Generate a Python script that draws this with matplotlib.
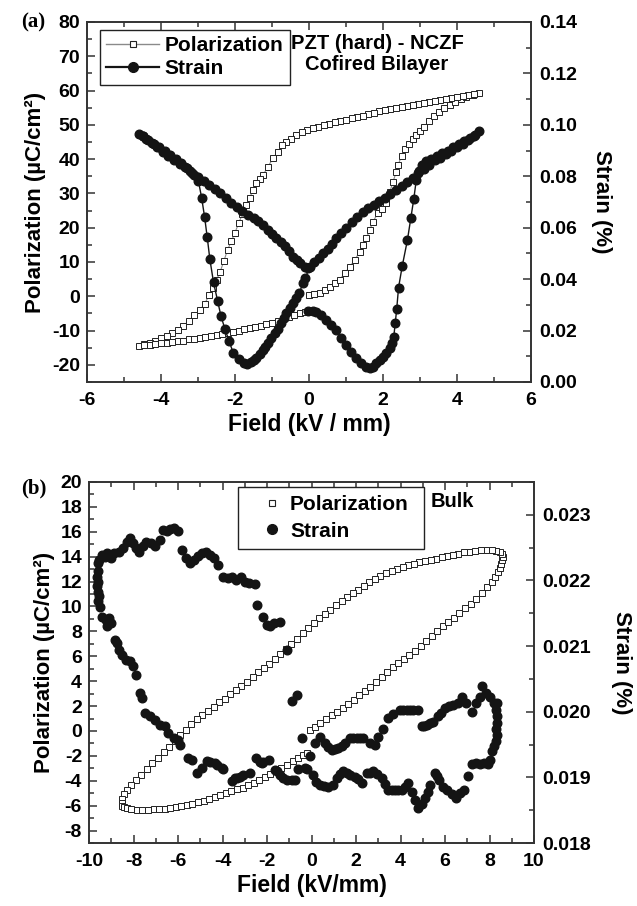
import matplotlib
matplotlib.use("Agg")
import matplotlib.pyplot as plt
from matplotlib.ticker import MultipleLocator, FormatStrFormatter
from matplotlib.lines import Line2D

plt.rcParams['font.family'] = ['Liberation Sans', 'DejaVu Sans']
plt.rcParams['font.weight'] = 'bold'
plt.rcParams['axes.labelweight'] = 'bold'
plt.rcParams['axes.unicode_minus'] = False

# ---------------- (a) PZT (hard) - NCZF cofired bilayer ----------------
# polarization: virgin curve, then +Emax -> -Emax, then back to 0
pzt_pol_virgin_field = [0.0, 0.14, 0.29, 0.42, 0.56, 0.7, 0.83, 0.96, 1.1, 1.24, 1.37, 1.46, 1.55,
                        1.64, 1.73, 1.86, 1.98, 2.09, 2.18, 2.27, 2.36, 2.41, 2.5, 2.6, 2.7, 2.8, 2.9,
                        3.0, 3.12, 3.25, 3.38, 3.52, 3.66, 3.8, 3.95, 4.1, 4.25, 4.42, 4.6]
pzt_pol_virgin = [0.4, 0.7, 1.0, 1.8, 2.8, 3.8, 4.8, 6.7, 8.6, 10.6, 13.0, 15.0, 16.9,
                  19.3, 21.8, 24.2, 25.6, 27.1, 30.3, 33.4, 36.3, 38.3, 41.0, 42.9, 44.5, 45.9, 47.1,
                  48.3, 49.5, 51.2, 52.5, 53.7, 54.8, 55.8, 56.8, 57.6, 58.2, 58.8, 59.3]
pzt_pol_down_field = [4.45, 4.3, 4.15, 4.0, 3.85, 3.7, 3.55, 3.4, 3.25, 3.1, 2.95, 2.8, 2.65, 2.5,
                      2.35, 2.2, 2.05, 1.9, 1.75, 1.6, 1.45, 1.3, 1.15, 1.0, 0.85, 0.7, 0.55, 0.4,
                      0.25, 0.1, -0.05, -0.2, -0.35, -0.5, -0.62, -0.74, -0.84, -0.97, -1.11, -1.24,
                      -1.33, -1.42, -1.51, -1.6, -1.7, -1.8, -1.9, -2.0, -2.1, -2.2, -2.3, -2.4, -2.5,
                      -2.6, -2.7, -2.82, -2.95, -3.1, -3.25, -3.4, -3.55, -3.7, -3.85, -4.0, -4.15,
                      -4.3, -4.45, -4.6]
pzt_pol_down = [59.1, 58.8, 58.4, 58.1, 57.8, 57.5, 57.2, 56.9, 56.6, 56.3, 56.0, 55.8, 55.5, 55.2,
                54.9, 54.6, 54.3, 53.9, 53.5, 53.1, 52.7, 52.3, 51.9, 51.5, 51.1, 50.7, 50.3, 49.9,
                49.5, 49.1, 48.6, 47.8, 46.9, 45.9, 45.0, 44.0, 42.2, 40.3, 37.8, 35.4,
                34.2, 33.0, 31.0, 28.8, 26.5, 24.0, 21.3, 18.6, 16.0, 13.6, 10.3, 7.2, 4.7,
                2.5, 0.3, -2.2, -4.0, -5.6, -7.2, -8.6, -9.8, -10.8, -11.6, -12.3, -12.9,
                -13.5, -14.0, -14.4]
pzt_pol_up_field = [-4.45, -4.3, -4.15, -4.0, -3.85, -3.7, -3.55, -3.4, -3.25, -3.1, -2.95, -2.8,
                    -2.65, -2.5, -2.35, -2.2, -2.05, -1.9, -1.75, -1.6, -1.45, -1.3, -1.15, -1.0,
                    -0.85, -0.7, -0.55, -0.4, -0.25, -0.1, 0.0]
pzt_pol_up = [-14.3, -14.1, -13.9, -13.7, -13.5, -13.3, -13.1, -12.9, -12.6, -12.4, -12.1, -11.8,
              -11.5, -11.2, -10.9, -10.6, -10.3, -10.0, -9.6, -9.3, -9.0, -8.6, -8.2, -7.7,
              -7.2, -6.7, -6.1, -5.5, -4.9, -4.5, -4.4]

# strain (%): four consecutive segments of the butterfly
pzt_strain_seg1_field = [-0.03, 0.1, 0.2, 0.33, 0.47, 0.6, 0.74, 0.87, 1.0, 1.14, 1.28, 1.41, 1.55,
                         1.64, 1.73, 1.82, 1.91, 2.0, 2.09, 2.18, 2.25, 2.29, 2.33, 2.37, 2.42, 2.52,
                         2.66, 2.75, 2.83, 2.9, 2.98, 3.06, 3.15, 3.3, 3.45, 3.6, 3.75, 3.9, 4.05,
                         4.2, 4.35, 4.48, 4.6]
pzt_strain_seg1 = [0.0276, 0.0275, 0.0273, 0.0260, 0.0241, 0.0222, 0.0202, 0.0170, 0.0144, 0.0118,
                   0.0092, 0.0073, 0.0057, 0.0053, 0.0060, 0.0073, 0.0084, 0.0096, 0.0114, 0.0133,
                   0.0152, 0.0174, 0.0228, 0.0283, 0.0367, 0.0451, 0.0552, 0.0637, 0.0710, 0.0786,
                   0.0822, 0.0845, 0.0858, 0.0868, 0.0878, 0.0889, 0.0900, 0.0912, 0.0924, 0.0936,
                   0.0948, 0.0960, 0.0975]
pzt_strain_seg2_field = [4.45, 4.3, 4.15, 4.0, 3.85, 3.7, 3.55, 3.4, 3.25, 3.1, 2.95, 2.8, 2.65, 2.5,
                         2.35, 2.2, 2.05, 1.9, 1.75, 1.6, 1.45, 1.3, 1.15, 1.0, 0.87, 0.74, 0.62,
                         0.5, 0.38, 0.26, 0.14, 0.02]
pzt_strain_seg2 = [0.0958, 0.0942, 0.0927, 0.0912, 0.0898, 0.0885, 0.0873, 0.0862, 0.0845, 0.0828,
                   0.0812, 0.0795, 0.0776, 0.0762, 0.0747, 0.0731, 0.0716, 0.0703, 0.0689, 0.0675,
                   0.0660, 0.0643, 0.0621, 0.0598, 0.0579, 0.0559, 0.0537, 0.0518, 0.0500, 0.0483,
                   0.0466, 0.0449]
pzt_strain_seg3_field = [-0.1, -0.16, -0.27, -0.35, -0.43, -0.52, -0.61, -0.68, -0.75, -0.84, -0.93,
                         -1.02, -1.11, -1.18, -1.24, -1.33, -1.42, -1.5, -1.58, -1.67, -1.76, -1.89,
                         -2.05, -2.16, -2.27, -2.38, -2.47, -2.58, -2.68, -2.75, -2.82, -2.9, -2.99,
                         -3.1, -3.22, -3.35, -3.5, -3.65, -3.8, -3.95, -4.1, -4.25, -4.4, -4.5, -4.6]
pzt_strain_seg3 = [0.0404, 0.0384, 0.0345, 0.0326, 0.0306, 0.0286, 0.0267, 0.0247, 0.0228, 0.0208,
                   0.0189, 0.0170, 0.0150, 0.0137, 0.0124, 0.0108, 0.0092, 0.0084, 0.0076, 0.0069,
                   0.0073, 0.0088, 0.0114, 0.0160, 0.0205, 0.0257, 0.0316, 0.0387, 0.0478, 0.0562,
                   0.0640, 0.0715, 0.0783, 0.0805, 0.0820, 0.0835, 0.0848, 0.0862, 0.0878, 0.0895,
                   0.0912, 0.0928, 0.0945, 0.0955, 0.0965]
pzt_strain_seg4_field = [-4.48, -4.35, -4.2, -4.05, -3.9, -3.75, -3.6, -3.45, -3.3, -3.15, -3.0,
                         -2.85, -2.7, -2.55, -2.4, -2.25, -2.1, -1.95, -1.8, -1.65, -1.5, -1.38,
                         -1.25, -1.12, -1.0, -0.88, -0.76, -0.65, -0.54, -0.43, -0.33, -0.23,
                         -0.12, -0.02]
pzt_strain_seg4 = [0.0955, 0.0942, 0.0927, 0.0913, 0.0898, 0.0884, 0.0869, 0.0851, 0.0832, 0.0814,
                   0.0797, 0.0782, 0.0768, 0.0752, 0.0734, 0.0715, 0.0697, 0.0680, 0.0664, 0.0648,
                   0.0637, 0.0626, 0.0609, 0.0591, 0.0576, 0.0559, 0.0543, 0.0528, 0.0510, 0.0488,
                   0.0475, 0.0462, 0.0448, 0.0445]

# ---------------- (b) bulk ----------------
bulk_pol_virgin_field = [-0.05, 0.15, 0.4, 0.65, 0.9, 1.15, 1.4, 1.65, 1.9, 2.15, 2.4, 2.65, 2.9,
                         3.15, 3.4, 3.65, 3.9, 4.15, 4.4, 4.65, 4.9, 5.15, 5.4, 5.65, 5.9, 6.15,
                         6.4, 6.65, 6.9, 7.15, 7.4, 7.65, 7.9, 8.1, 8.25, 8.38, 8.47, 8.53, 8.57, 8.6]
bulk_pol_virgin = [0.1, 0.35, 0.65, 0.95, 1.25, 1.55, 1.85, 2.2, 2.5, 2.85, 3.2, 3.55, 3.95,
                   4.35, 4.75, 5.1, 5.5, 5.8, 6.1, 6.45, 6.8, 7.2, 7.6, 8.0, 8.4, 8.75,
                   9.1, 9.45, 9.85, 10.2, 10.6, 11.05, 11.6, 12.0, 12.4, 12.75, 13.1, 13.4, 13.7, 14.0]
bulk_pol_down_field = [8.55, 8.45, 8.3, 8.1, 7.85, 7.6, 7.35, 7.1, 6.85, 6.6, 6.35, 6.1, 5.85, 5.6,
                       5.35, 5.1, 4.85, 4.6, 4.35, 4.1, 3.85, 3.6, 3.35, 3.1, 2.85, 2.6, 2.35, 2.1,
                       1.85, 1.6, 1.35, 1.1, 0.85, 0.6, 0.35, 0.1, -0.15, -0.4, -0.65, -0.9, -1.15,
                       -1.4, -1.65, -1.9, -2.15, -2.4, -2.65, -2.9, -3.15, -3.4, -3.65, -3.9, -4.15,
                       -4.4, -4.65, -4.9, -5.15, -5.4, -5.65, -5.9, -6.15, -6.4, -6.65, -6.9, -7.15,
                       -7.4, -7.65, -7.9, -8.1, -8.3, -8.42, -8.5, -8.53, -8.5]
bulk_pol_down = [14.25, 14.4, 14.45, 14.5, 14.5, 14.5, 14.45, 14.4, 14.35, 14.25, 14.15, 14.05, 13.95,
                 13.85, 13.75, 13.65, 13.55, 13.45, 13.35, 13.2, 13.05, 12.85, 12.65, 12.45, 12.2,
                 11.95, 11.65, 11.35, 11.05, 10.75, 10.45, 10.1, 9.75, 9.4, 9.05, 8.65, 8.25, 7.85,
                 7.4, 7.0, 6.6, 6.2, 5.8, 5.4, 5.05, 4.7, 4.3, 3.95, 3.6, 3.3, 2.95, 2.6, 2.3, 1.95,
                 1.6, 1.3, 0.95, 0.55, 0.1, -0.35, -0.8, -1.25, -1.7, -2.15, -2.6, -3.05, -3.5,
                 -3.95, -4.35, -4.75, -5.1, -5.45, -5.75, -6.0]
bulk_pol_up_field = [-8.42, -8.3, -8.1, -7.85, -7.6, -7.35, -7.1, -6.85, -6.6, -6.35, -6.1, -5.85,
                     -5.6, -5.35, -5.1, -4.85, -4.6, -4.35, -4.1, -3.85, -3.6, -3.35, -3.1, -2.85,
                     -2.6, -2.35, -2.1, -1.85, -1.6, -1.35, -1.1, -0.85, -0.6, -0.4, -0.2]
bulk_pol_up = [-6.1, -6.2, -6.3, -6.35, -6.35, -6.35, -6.3, -6.3, -6.25, -6.2, -6.1, -6.05,
               -5.95, -5.85, -5.72, -5.6, -5.45, -5.3, -5.15, -5.0, -4.85, -4.7, -4.55, -4.35,
               -4.15, -3.95, -3.7, -3.45, -3.2, -2.95, -2.7, -2.45, -2.2, -1.95, -1.75]

bulk_strain_top_field = [-9.58, -9.53, -9.40, -9.3, -9.18, -9.03, -8.89, -8.67, -8.49, -8.30, -8.16,
                         -8.03, -7.9, -7.76, -7.57, -7.43, -7.21, -7.03, -6.81, -6.66, -6.48, -6.35,
                         -6.20, -6.02, -5.84, -5.66, -5.47, -5.29, -5.11, -4.93, -4.74, -4.56, -4.38,
                         -4.20, -3.96, -3.74, -3.56, -3.38, -3.19, -3.01, -2.79, -2.55, -2.43, -2.19,
                         -2.01, -1.88, -1.70, -1.41, -1.09]
bulk_strain_top = [0.02226, 0.02231, 0.02239, 0.02236, 0.02242, 0.02234, 0.02242, 0.02244, 0.02249,
                   0.02259, 0.02264, 0.02257, 0.02250, 0.02244, 0.02252, 0.02259, 0.02257, 0.02252,
                   0.02261, 0.02277, 0.02275, 0.02278, 0.02280, 0.02276, 0.02247, 0.02234, 0.02226,
                   0.02231, 0.02237, 0.02242, 0.02244, 0.02239, 0.02234, 0.02224, 0.02206, 0.02204,
                   0.02206, 0.02201, 0.02206, 0.02198, 0.02196, 0.02195, 0.02163, 0.02145, 0.02132,
                   0.02130, 0.02135, 0.02136, 0.02094]
bulk_strain_left_field = [-9.58, -9.62, -9.58, -9.62, -9.58, -9.54, -9.58, -9.49, -9.40, -9.25, -9.12,
                          -9.03, -9.18, -8.85, -8.76, -8.63, -8.52, -8.34, -8.16, -8.03, -7.90, -7.72,
                          -7.61, -7.48, -7.24, -7.03, -6.81, -6.57, -6.44, -6.20, -6.02, -5.91]
bulk_strain_left = [0.02214, 0.02206, 0.02198, 0.02191, 0.02183, 0.02176, 0.02168, 0.02160, 0.02145,
                    0.02140, 0.02143, 0.02135, 0.02130, 0.02110, 0.02105, 0.02094, 0.02087, 0.02079,
                    0.02077, 0.02069, 0.02056, 0.02028, 0.02021, 0.01998, 0.01993, 0.01988, 0.01980,
                    0.01978, 0.01968, 0.01960, 0.01957, 0.01950]
bulk_strain_low_field = [-5.54, -5.39, -5.16, -4.93, -4.71, -4.56, -4.34, -4.26, -4.04, -3.96, -3.59,
                         -3.44, -3.36, -3.21, -3.07, -2.76, -2.49, -2.31, -2.24, -2.17, -1.90, -1.64,
                         -1.56, -1.42, -1.27, -1.12, -0.89, -0.74, -0.59, -0.29, -0.22, -0.07,
                         0.08, 0.2, 0.38, 0.55, 0.76, 0.98, 1.13, 1.28, 1.43, 1.58, 1.73, 1.96, 2.1,
                         2.26, 2.48, 2.63, 2.78, 2.95, 3.16, 3.3, 3.45, 3.6, 3.75, 3.9, 4.05, 4.2,
                         4.35, 4.5, 4.65, 4.80, 4.95, 5.10, 5.22, 5.33, 5.55, 5.65, 5.75, 5.93, 6.11,
                         6.30, 6.48, 6.66, 6.84, 7.03, 7.21, 7.39, 7.57, 7.76, 7.94, 8.03, 8.12]
bulk_strain_low = [0.01930, 0.01927, 0.01907, 0.01914, 0.01925, 0.01924, 0.01922, 0.01919, 0.01914,
                   0.01912, 0.01894, 0.01899, 0.01899, 0.01901, 0.01904, 0.01907, 0.01930, 0.01924,
                   0.01922, 0.01924, 0.01927, 0.01911, 0.01909, 0.01904, 0.01899, 0.01896, 0.01896,
                   0.01896, 0.01912, 0.01914, 0.01912, 0.01932,
                   0.01904, 0.01893, 0.01889, 0.01887, 0.01886, 0.01889, 0.01899, 0.01905, 0.01909,
                   0.01907, 0.01904, 0.01901, 0.01898, 0.01891, 0.01907, 0.01906, 0.01909, 0.01905,
                   0.01899, 0.01890, 0.01881, 0.01881, 0.01881, 0.01881, 0.01881, 0.01886, 0.01891,
                   0.01878, 0.01866, 0.01853, 0.01860, 0.01868, 0.01878, 0.01889, 0.01907, 0.01902,
                   0.01896, 0.01886, 0.01881, 0.01874, 0.01869, 0.01876, 0.01881, 0.01902, 0.01920,
                   0.01922, 0.01920, 0.01922, 0.01920, 0.01927, 0.01940]
bulk_strain_right_field = [8.20, 8.30, 8.32, 8.28, 8.32, 8.32, 8.30, 8.32, 8.21]
bulk_strain_right = [0.01948, 0.01955, 0.01965, 0.01973, 0.01983, 0.01993, 0.02003, 0.02014, 0.02013]
bulk_strain_mid_field = [-0.89, -0.67, -0.44, 0.16, 0.38, 0.61, 0.76, 0.91, 1.05, 1.2, 1.35, 1.51,
                         1.73, 1.88, 2.03, 2.18, 2.33, 2.63, 2.85, 3.0, 3.23, 3.45, 3.68, 3.98, 4.13,
                         4.28, 4.43, 4.58, 4.80, 4.95, 5.05, 5.18, 5.33, 5.47, 5.70, 5.84, 6.02, 6.2,
                         6.38, 6.57, 6.75, 6.93, 7.21, 7.39, 7.57, 7.66, 7.85, 8.03]
bulk_strain_mid = [0.02016, 0.02026, 0.01960, 0.01952, 0.01962, 0.01952, 0.01947, 0.01942, 0.01943,
                   0.01945, 0.01948, 0.01952, 0.01960, 0.01960, 0.01960, 0.01960, 0.01960, 0.01952,
                   0.01950, 0.01962, 0.01973, 0.01991, 0.01996, 0.02003, 0.02003, 0.02003, 0.02003,
                   0.02003, 0.02003, 0.01978, 0.01979, 0.01980, 0.01983, 0.01985, 0.01993, 0.01998,
                   0.02006, 0.02008, 0.02010, 0.02013, 0.02023, 0.02013, 0.02000, 0.02013, 0.02023,
                   0.02039, 0.02028, 0.02023]

FIG_W, FIG_H = 637, 906
EDGE = "#222222"
DOT = "#141414"


def style_axes(ax, ax2, xmaj, xmin, ymaj, ymin, y2maj, y2min, y2fmt):
    ax.xaxis.set_major_locator(MultipleLocator(xmaj))
    ax.xaxis.set_minor_locator(MultipleLocator(xmin))
    ax.yaxis.set_major_locator(MultipleLocator(ymaj))
    ax.yaxis.set_minor_locator(MultipleLocator(ymin))
    ax2.yaxis.set_major_locator(MultipleLocator(y2maj))
    ax2.yaxis.set_minor_locator(MultipleLocator(y2min))
    ax2.yaxis.set_major_formatter(FormatStrFormatter(y2fmt))
    ax.tick_params(which='both', direction='in', top=True, right=False, labelsize=14,
                   width=1.1, color="#333333")
    ax.tick_params(which='major', length=5.5, pad=5)
    ax.tick_params(which='minor', length=3.5)
    ax.tick_params(axis='x', pad=7)
    ax2.tick_params(which='both', direction='in', labelsize=14, width=1.1, color="#333333")
    ax2.tick_params(which='major', length=5.5, pad=6)
    ax2.tick_params(which='minor', length=3.5)
    for a in (ax, ax2):
        for s in a.spines.values():
            s.set_linewidth(1.2)
            s.set_color("#333333")


fig = plt.figure(figsize=(FIG_W / 100, FIG_H / 100), dpi=100)

# ---- panel (a)
axA = fig.add_axes([87 / FIG_W, 1 - 382 / FIG_H, 444 / FIG_W, 360 / FIG_H])
axA2 = axA.twinx()

pol_a_field = pzt_pol_virgin_field + pzt_pol_down_field + pzt_pol_up_field
pol_a = pzt_pol_virgin + pzt_pol_down + pzt_pol_up
strain_a_field = pzt_strain_seg1_field + pzt_strain_seg2_field + pzt_strain_seg3_field + pzt_strain_seg4_field
strain_a = pzt_strain_seg1 + pzt_strain_seg2 + pzt_strain_seg3 + pzt_strain_seg4

axA.plot(pol_a_field, pol_a, color="#8a8a8a", lw=0.8, marker='s', ms=4.8,
         mfc='white', mec=EDGE, mew=0.7)
axA2.plot(strain_a_field, strain_a, color=DOT, lw=1.0, marker='o', ms=6.2, mfc=DOT, mec=DOT)

axA.set_xlim(-6, 6)
axA.set_ylim(-25, 80)
axA2.set_ylim(0, 0.14)
style_axes(axA, axA2, 2, 1, 10, 5, 0.02, 0.01, '%.2f')

axA.set_xlabel('Field (kV / mm)', fontsize=16.5, labelpad=3)
axA.set_ylabel('Polarization (\u00b5C/cm\u00b2)', fontsize=16, labelpad=4)
axA2.set_ylabel('Strain (%)', fontsize=16, rotation=270, va='bottom', labelpad=10)

handles_a = [Line2D([], [], color="#8a8a8a", lw=1.0, marker='s', ms=5, mfc='white', mec=EDGE, mew=0.8),
             Line2D([], [], color=DOT, lw=1.6, marker='o', ms=7, mfc=DOT, mec=DOT)]
legA = axA2.legend(handles_a, ['Polarization', 'Strain'], loc='upper left',
                   bbox_to_anchor=(13 / 444, 352 / 360), borderaxespad=0, fontsize=15,
                   frameon=True, fancybox=False, framealpha=1, edgecolor=EDGE,
                   handlelength=2.55, handletextpad=0.25, borderpad=0.3, labelspacing=0.2)
legA.get_frame().set_linewidth(1.0)

axA.text(0.653, 0.967, 'PZT (hard) - NCZF\nCofired Bilayer', transform=axA.transAxes,
         ha='center', va='top', fontsize=14.5, linespacing=1.15)
fig.text(21 / FIG_W, 1 - 22 / FIG_H, '(a)', family=['Liberation Serif', 'DejaVu Serif'],
         weight='bold', fontsize=15, ha='left', va='center')

# ---- panel (b)
axB = fig.add_axes([89 / FIG_W, 1 - 843 / FIG_H, 445 / FIG_W, 361 / FIG_H])
axB2 = axB.twinx()

pol_b_field = bulk_pol_virgin_field + bulk_pol_down_field + bulk_pol_up_field
pol_b = bulk_pol_virgin + bulk_pol_down + bulk_pol_up
strain_b_field = (bulk_strain_top_field + bulk_strain_left_field + bulk_strain_low_field
                  + bulk_strain_right_field + bulk_strain_mid_field)
strain_b = bulk_strain_top + bulk_strain_left + bulk_strain_low + bulk_strain_right + bulk_strain_mid

axB.plot(pol_b_field, pol_b, ls='none', marker='s', ms=4.8, mfc='white', mec=EDGE, mew=0.7)
axB2.plot(strain_b_field, strain_b, ls='none', marker='o', ms=6.2, mfc=DOT, mec=DOT)

axB.set_xlim(-10, 10)
axB.set_ylim(-9, 20)
axB2.set_ylim(0.018, 0.0235)
style_axes(axB, axB2, 2, 1, 2, 1, 0.001, 0.0005, '%.3f')

axB.set_xlabel('Field (kV/mm)', fontsize=16.5, labelpad=3)
axB.set_ylabel('Polarization (\u00b5C/cm\u00b2)', fontsize=16, labelpad=4)
axB2.set_ylabel('Strain (%)', fontsize=16, rotation=270, va='bottom', labelpad=14)

handles_b = [Line2D([], [], ls='none', marker='s', ms=5, mfc='white', mec=EDGE, mew=0.8),
             Line2D([], [], ls='none', marker='o', ms=7, mfc=DOT, mec=DOT)]
legB = axB2.legend(handles_b, ['Polarization', 'Strain'], loc='upper left',
                   bbox_to_anchor=(149 / 445, 0.817, 186 / 445, 0.169), mode='expand',
                   borderaxespad=0, fontsize=15, frameon=True, fancybox=False, framealpha=1,
                   edgecolor=EDGE, handlelength=2.5, handletextpad=-0.4, borderpad=0.4,
                   labelspacing=0.35)
legB.get_frame().set_linewidth(1.0)

axB.text(0.816, 0.945, 'Bulk', transform=axB.transAxes, ha='center', va='center', fontsize=14.5)
fig.text(21 / FIG_W, 1 - 488 / FIG_H, '(b)', family=['Liberation Serif', 'DejaVu Serif'],
         weight='bold', fontsize=15, ha='left', va='center')

fig.savefig('out.png', dpi=100)
